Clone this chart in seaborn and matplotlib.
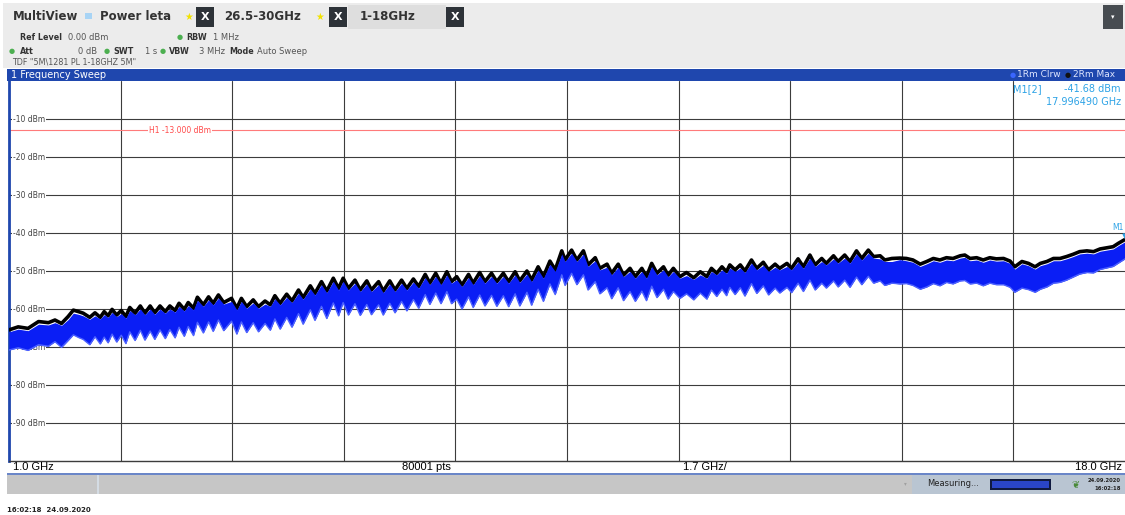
import matplotlib
matplotlib.use('Agg')
import matplotlib.pyplot as plt
import matplotlib.transforms as mtransforms
from matplotlib.patches import Rectangle
import numpy as np
import pandas as pd
import seaborn as sns

# ── Data ─────────────────────────────────────────────────────────────────────
# trace 2 (Max hold, black): alternating ripple peaks / troughs
max_f = [1.00, 1.14, 1.29, 1.45, 1.60, 1.70, 1.80, 1.90, 1.98, 2.06, 2.13, 2.23, 2.31, 2.39, 2.45,
         2.51, 2.57, 2.64, 2.71, 2.78, 2.84, 2.92, 3.00, 3.07, 3.15, 3.22, 3.30, 3.38, 3.45, 3.53,
         3.59, 3.67, 3.73, 3.81, 3.87, 3.96, 4.04, 4.11, 4.19, 4.27,
         4.39, 4.47, 4.54, 4.62, 4.72, 4.80, 4.90, 4.98, 5.05, 5.13, 5.23, 5.31, 5.41, 5.48, 5.59,
         5.66, 5.76, 5.84, 5.94, 6.02, 6.09, 6.17, 6.27, 6.35, 6.45, 6.52, 6.63, 6.70, 6.80, 6.88,
         6.98, 7.06, 7.16, 7.24, 7.34, 7.41, 7.50, 7.58, 7.67, 7.74,
         7.82, 7.90, 8.00, 8.07, 8.17, 8.25, 8.35, 8.43, 8.53, 8.61, 8.71, 8.78, 8.89, 8.96, 9.06,
         9.14, 9.24, 9.32, 9.42, 9.47, 9.57, 9.65, 9.75, 9.82, 9.93, 10.00, 10.11, 10.18, 10.28,
         10.36, 10.46, 10.54, 10.64, 10.71, 10.79, 10.87, 10.97, 11.04, 11.12,
         11.22, 11.32, 11.43, 11.53, 11.63, 11.70, 11.78, 11.86, 11.93, 11.98, 12.06, 12.14, 12.21,
         12.31, 12.39, 12.49, 12.57, 12.67, 12.74, 12.85, 12.92, 13.02, 13.10, 13.20, 13.28, 13.38,
         13.45, 13.56, 13.63, 13.73, 13.81, 13.91, 13.99, 14.09, 14.17, 14.27, 14.34, 14.45, 14.57,
         14.67, 14.77, 14.88, 14.98, 15.08, 15.18, 15.28, 15.38, 15.49, 15.56, 15.64, 15.74, 15.84,
         15.94, 16.04, 16.15, 16.25, 16.32, 16.43, 16.53, 16.63, 16.71, 16.81, 16.91, 17.01, 17.11,
         17.21, 17.31, 17.42, 17.52, 17.62, 17.72, 17.82, 17.90, 18.00]
max_dbm = [-65.5, -64.7, -65.1, -63.3, -63.6, -62.9, -63.8, -62.0, -60.3, -60.7, -61.1, -62.2, -61.0, -62.2, -60.7,
           -61.8, -60.1, -61.6, -60.4, -62.0, -59.6, -61.1, -59.2, -61.1, -59.2, -61.0, -59.2, -60.7, -59.2, -60.4,
           -58.5, -60.1, -58.3, -59.8, -56.9, -58.9, -56.8, -58.5, -56.3, -58.3,
           -57.2, -59.8, -57.2, -59.4, -57.6, -59.4, -57.9, -58.9, -56.5, -58.5, -56.1, -57.9, -55.0, -57.0, -53.9,
           -55.9, -52.8, -55.3, -51.9, -54.6, -51.9, -54.6, -52.4, -55.0, -52.6, -55.0, -52.8, -55.3, -52.6, -55.0,
           -52.4, -54.6, -52.1, -54.1, -50.9, -53.2, -50.6, -53.2, -50.2, -52.8,
           -51.5, -53.7, -50.9, -53.2, -50.4, -52.8, -50.6, -52.8, -50.6, -52.8, -50.2, -52.6, -50.0, -52.4, -48.9,
           -51.5, -47.4, -49.7, -44.7, -47.1, -44.5, -47.1, -44.7, -48.4, -46.5, -49.3, -48.2, -50.6, -48.2,
           -51.1, -49.3, -51.5, -49.3, -51.5, -48.0, -50.6, -48.9, -51.1, -49.3,
           -51.5, -50.4, -51.8, -50.2, -51.5, -49.3, -50.6, -48.9, -50.2, -48.4, -49.7, -48.4, -50.0,
           -47.1, -49.3, -47.7, -49.7, -48.2, -49.3, -48.0, -49.3, -46.8, -48.9, -45.8, -48.4, -46.7,
           -48.0, -46.0, -47.5, -45.8, -47.5, -44.7, -46.7, -44.5, -46.2, -46.0, -47.1, -46.7, -46.6,
           -46.7, -47.1, -48.2, -47.5, -46.7, -47.1, -46.5, -46.7, -46.0, -45.8, -46.7, -46.5, -47.1,
           -46.5, -46.8, -46.7, -47.4, -48.9, -47.5, -48.0, -48.9, -48.0, -47.5, -46.7, -46.7, -46.2,
           -45.6, -44.9, -44.7, -44.9, -44.2, -43.9, -43.6, -42.7, -41.7]

# trace 1 (Clear write, blue): upper and lower edge of the band, same frequencies
clrw_hi = [-66.0, -65.3, -65.7, -64.0, -64.2, -63.6, -64.3, -62.8, -61.1, -61.4, -61.8, -62.7, -61.8, -62.6, -61.5,
           -62.2, -60.9, -62.0, -61.2, -62.4, -60.4, -61.5, -60.0, -61.5, -60.0, -61.4, -60.0, -61.1, -60.0, -60.8,
           -59.3, -60.5, -59.1, -60.2, -57.7, -59.3, -57.6, -58.9, -57.1, -58.7,
           -58.0, -60.2, -58.0, -59.8, -58.4, -59.8, -58.7, -59.3, -57.3, -58.9, -56.9, -58.3, -55.8, -57.4, -54.7,
           -56.3, -53.6, -55.7, -52.7, -55.0, -52.7, -55.0, -53.2, -55.4, -53.4, -55.4, -53.6, -55.7, -53.4, -55.4,
           -53.2, -55.0, -52.9, -54.5, -51.7, -53.6, -51.4, -53.6, -51.0, -53.2,
           -52.3, -54.1, -51.7, -53.6, -51.2, -53.2, -51.4, -53.2, -51.4, -53.2, -51.0, -53.0, -50.8, -52.8, -49.7,
           -51.9, -48.2, -50.1, -45.5, -47.5, -45.3, -47.5, -45.5, -48.8, -47.3, -49.7, -49.0, -51.0, -49.0,
           -51.5, -50.1, -51.9, -50.1, -51.9, -48.8, -51.0, -49.7, -51.5, -50.1,
           -51.9, -51.2, -52.2, -51.0, -51.9, -50.1, -51.0, -49.7, -50.6, -49.2, -50.1, -49.2, -50.4,
           -47.9, -49.7, -48.5, -50.1, -49.0, -49.7, -48.8, -49.7, -47.6, -49.3, -46.6, -48.8, -47.5,
           -48.4, -46.8, -47.9, -46.6, -47.9, -45.5, -47.1, -45.3, -46.6, -46.8, -47.5, -47.5, -47.0,
           -47.3, -47.7, -48.8, -48.1, -47.3, -47.7, -47.1, -47.3, -46.6, -46.4, -47.3, -47.1, -47.7,
           -47.1, -47.4, -47.3, -48.0, -49.5, -48.1, -48.6, -49.5, -48.6, -48.1, -47.3, -47.3, -46.8,
           -46.2, -45.5, -45.3, -45.5, -44.8, -44.5, -44.2, -43.3, -42.3]
clrw_lo = [-70.8, -70.2, -70.9, -69.4, -69.8, -68.6, -70.1, -68.3, -66.8, -67.5, -68.0, -69.4, -67.3, -69.2, -67.4,
           -68.9, -66.6, -68.7, -66.9, -69.1, -66.0, -68.3, -65.6, -68.2, -65.8, -68.0, -65.5, -67.8, -65.4, -67.6,
           -64.8, -67.2, -64.6, -67.0, -63.5, -66.3, -63.4, -65.9, -62.9, -65.7,
           -63.2, -66.6, -63.4, -66.2, -63.6, -66.0, -63.8, -65.6, -62.6, -65.3, -62.2, -64.8, -61.2, -64.0, -60.2,
           -63.0, -59.3, -62.5, -58.4, -61.8, -58.3, -61.6, -58.6, -61.7, -58.8, -61.5, -58.9, -61.6, -58.5, -61.0,
           -58.0, -60.5, -57.5, -59.8, -56.2, -58.8, -55.8, -58.6, -55.4, -58.6,
           -57.4, -60.0, -56.8, -59.6, -56.3, -59.2, -56.4, -59.3, -56.5, -59.4, -56.0, -59.2, -55.6, -59.0, -54.8,
           -58.0, -53.4, -56.2, -51.0, -53.8, -50.6, -53.6, -51.0, -55.0, -52.8, -56.0, -54.4, -57.3, -54.4,
           -57.8, -55.4, -58.0, -55.3, -57.8, -54.0, -57.0, -54.8, -57.4, -55.4,
           -57.2, -56.0, -57.6, -55.8, -57.4, -55.0, -56.7, -54.8, -56.5, -54.3, -56.2, -54.4, -56.6,
           -53.3, -55.9, -53.9, -56.3, -54.5, -55.8, -54.3, -55.7, -53.2, -55.4, -52.4, -55.0, -53.2,
           -54.5, -52.6, -54.2, -52.4, -54.3, -51.6, -53.6, -51.4, -53.2, -52.6, -53.8, -53.2, -53.4,
           -53.3, -53.8, -54.8, -54.2, -53.3, -53.9, -53.0, -53.4, -52.6, -52.5, -53.4, -53.2, -53.9,
           -53.2, -53.6, -53.6, -54.3, -55.6, -54.5, -54.9, -55.6, -54.8, -54.2, -53.2, -53.0, -52.4,
           -51.6, -50.8, -50.4, -50.5, -49.6, -49.2, -48.8, -47.9, -46.8]

grid_dbm = [-10, -20, -30, -40, -50, -60, -70, -80, -90]
h1_dbm = -13.0
marker_f, marker_dbm = 17.996490, -41.68
f_start, f_stop, f_div = 1.0, 18.0, 1.7

df_max = pd.DataFrame({'f': max_f, 'dbm': max_dbm})

# ── Figure ───────────────────────────────────────────────────────────────────
sns.set_style('white')
plt.rcParams['font.family'] = ['DejaVu Sans']

W, H = 1125, 515
fig = plt.figure(figsize=(W / 100, H / 100), dpi=100)
fig.patch.set_facecolor('white')


def px(x, y):
    return x / W, 1 - y / H


def box(x0, y0, x1, y1, color, z=0):
    fig.patches.append(Rectangle(px(x0, y1), (x1 - x0) / W, (y1 - y0) / H,
                                 transform=fig.transFigure, facecolor=color,
                                 edgecolor='none', zorder=z))


def ftext(x, y, s, **kw):
    kw.setdefault('va', 'center')
    kw.setdefault('fontsize', 6)
    kw.setdefault('color', '#333333')
    fig.text(*px(x, y), s, **kw)


# toolbar
box(3, 3, 1125, 68, '#ececec')
box(348, 5, 446, 29, '#dedede')
ftext(13, 17, 'MultiView', fontsize=8.5, weight='bold')
box(85, 13, 92, 19, '#a8d4f5', z=1)
ftext(100, 17, 'Power leta', fontsize=8.5, weight='bold')
ftext(224, 17, '26.5-30GHz', fontsize=8.5, weight='bold')
ftext(360, 17, '1-18GHz', fontsize=8.5, weight='bold')
for sx in [189, 320]:
    ftext(sx, 17, '\u2605', fontsize=7, color='#f2e200', ha='center')
for bx in [196, 329, 446]:
    box(bx, 7, bx + 18, 27, '#2d3238', z=1)
    ftext(bx + 9, 17, 'X', fontsize=8, weight='bold', color='white', ha='center')
box(1103, 5, 1123, 29, '#474c51', z=1)
ftext(1113, 17, '\u25be', fontsize=5, color='white', ha='center')

# settings lines
green = '#4caf50'
ftext(20, 37, 'Ref Level', weight='bold', fontsize=5.8)
ftext(68, 37, '0.00 dBm', color='#555555')
ftext(180, 37, '\u25cf', color=green, fontsize=5, ha='center')
ftext(186, 37, 'RBW', weight='bold', fontsize=5.8)
ftext(213, 37, '1 MHz', color='#555555')
for dx in [12, 107, 163]:
    ftext(dx, 51, '\u25cf', color=green, fontsize=5, ha='center')
ftext(20, 51, 'Att', weight='bold', fontsize=5.8)
ftext(78, 51, '0 dB', color='#555555')
ftext(113, 51, 'SWT', weight='bold', fontsize=5.8)
ftext(145, 51, '1 s', color='#555555')
ftext(169, 51, 'VBW', weight='bold', fontsize=5.8)
ftext(199, 51, '3 MHz', color='#555555')
ftext(229, 51, 'Mode', weight='bold', fontsize=5.8)
ftext(257, 51, 'Auto Sweep', color='#555555')
ftext(12, 62, 'TDF "5M\\1281 PL 1-18GHZ 5M"', fontsize=5.8, color='#555555')

# window title bar
box(7, 69, 1125, 81, '#1f47ae')
ftext(11, 75, '1 Frequency Sweep', color='white', fontsize=7)
ftext(1013, 75, '\u25cf', color='#3a66ff', fontsize=5, ha='center')
ftext(1017, 75, '1Rm Clrw', color='#dfe6ff', fontsize=6.5)
ftext(1068, 75, '\u25cf', color='#111111', fontsize=5, ha='center')
ftext(1073, 75, '2Rm Max', color='#dfe6ff', fontsize=6.5)

# ── Diagram ──────────────────────────────────────────────────────────────────
ax = fig.add_axes([9 / W, (H - 461) / H, 1116 / W, 380 / H])
ax.set_xlim(f_start, f_stop)
ax.set_ylim(-100, 0)
ax.set_xticks(np.arange(f_start, f_stop, f_div))
ax.set_yticks(grid_dbm)
ax.grid(True, color='#3c3c3c', lw=0.8)
ax.tick_params(length=0, labelbottom=False, labelleft=False)
for side in ['top', 'right']:
    ax.spines[side].set_visible(False)
ax.spines['bottom'].set_color('#3c3c3c')
ax.spines['bottom'].set_linewidth(1)
ax.spines['left'].set_color('#1f47ae')
ax.spines['left'].set_linewidth(2)

trans = mtransforms.blended_transform_factory(ax.transAxes, ax.transData)
for v in grid_dbm:
    ax.text(0.0035, v, f'{v} dBm', transform=trans, fontsize=5.5, color='#444444',
            va='center', ha='left', zorder=4,
            bbox=dict(facecolor='white', edgecolor='none', pad=0.6))

ax.axhline(h1_dbm, color='#ff7a7a', lw=0.8, zorder=2)
ax.text(0.153, h1_dbm, f'H1 {h1_dbm:.3f} dBm', transform=trans, fontsize=5.5,
        color='#ff4a4a', va='center', ha='center', zorder=4,
        bbox=dict(facecolor='white', edgecolor='none', pad=0.6))

sns.lineplot(data=df_max, x='f', y='dbm', color='black', lw=2.6, ax=ax, zorder=5)
ax.fill_between(max_f, clrw_lo, clrw_hi, color='#0a1ef5', lw=0, zorder=6)
ax.plot(max_f, clrw_lo, color='#4d62ff', lw=1.0, zorder=6)
ax.set_xlabel('')
ax.set_ylabel('')

mblue = '#2ea3e6'
ax.plot([marker_f], [marker_dbm + 0.8], marker='v', color=mblue, ms=3.5, zorder=7, clip_on=False)
ax.text(0.999, marker_dbm + 3.2, 'M1', transform=trans, fontsize=5.5, color=mblue,
        ha='right', va='center', zorder=7)
ftext(1013, 89, 'M1[2]', color=mblue, fontsize=7)
ftext(1121, 89, f'{marker_dbm:.2f} dBm', color=mblue, fontsize=7, ha='right')
ftext(1121, 102, f'{marker_f:.6f} GHz', color=mblue, fontsize=7, ha='right')

# ── Frequency axis strip and status bar ──────────────────────────────────────
ftext(13, 467, f'{f_start:.1f} GHz', fontsize=8, color='black', family='Liberation Sans')
ftext(426, 467, '80001 pts', fontsize=8, color='black', ha='center', family='Liberation Sans')
ftext(705, 467, f'{f_div:.1f} GHz/', fontsize=8, color='black', ha='center', family='Liberation Sans')
ftext(1122, 467, f'{f_stop:.1f} GHz', fontsize=8, color='black', ha='right', family='Liberation Sans')

box(7, 473, 1125, 475, '#6a86c8')
box(7, 475, 1125, 494, '#c6c6c6')
box(97, 475, 99, 494, '#d4dce4')
box(912, 475, 1125, 494, '#b9c5d2')
ftext(905, 484, '\u25be', fontsize=4, color='#a0a0a0', ha='center')
ftext(927, 484, 'Measuring...', fontsize=6, color='#222222')
box(990, 479, 1051, 490, '#101a40', z=1)
box(992, 481, 1049, 488, '#2a45c8', z=2)
ftext(1075, 484, '\u2766', fontsize=7, color='#4a8a3a', ha='center')
ftext(1121, 480, '24.09.2020', fontsize=3.8, color='#222222', ha='right', weight='bold')
ftext(1121, 489, '16:02:18', fontsize=3.8, color='#222222', ha='right', weight='bold')

ftext(7, 510, '16:02:18  24.09.2020', fontsize=5, color='#222222', weight='bold')

fig.savefig('out.png', dpi=100, facecolor='white')
